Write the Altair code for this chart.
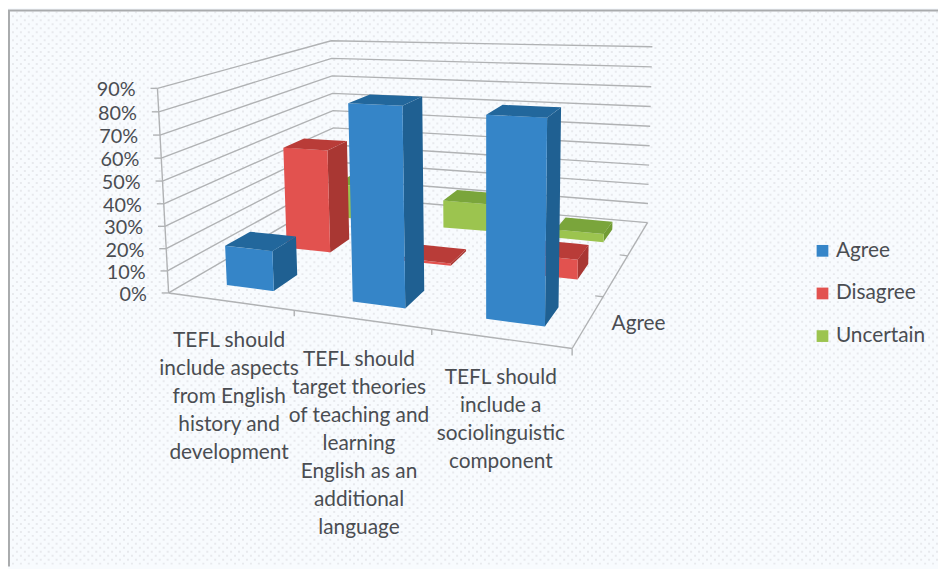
import altair as alt
import numpy as np
import pandas as pd

# ---- values ----
categories = ["TEFL should include aspects from English history and development",
              "TEFL should target theories of teaching and learning English as an additional language",
              "TEFL should include a sociolinguistic component"]
series = ["Agree", "Disagree", "Uncertain"]
agree = [18, 84, 82]
disagree = [50, 1, 9]
uncertain = [18, 14, 4]
pct_ticks = [0, 10, 20, 30, 40, 50, 60, 70, 80, 90]
cat_lines = [["TEFL should", "include aspects", "from English", "history and", "development"],
             ["TEFL should", "target theories", "of teaching and", "learning", "English as an", "additional", "language"],
             ["TEFL should", "include a", "sociolinguistic", "component"]]
depth_label = "Agree"

# ---- styling / layout ----
W, H = 938, 561
X0, Y0 = 8, 8
FONT = "Lato"
TEXT = "#4a4d52"
GRID = "#b0b2b4"
BG = "#f8fbfe"
colors = {"Agree": "#3585c8", "Disagree": "#e2524f", "Uncertain": "#9cc44f",
          "Agree side": "#1f6092", "Disagree side": "#a93733", "Uncertain side": "#729c35",
          "Agree top": "#22679c", "Disagree top": "#b93c38", "Uncertain top": "#7aa53b"}

floor = [(170, 293), (577, 349), (653, 222), (338, 195)]   # front-left, front-right, back-right, back-left
wall_tops = {(0, 0): (160, 88), (0, 1): (333, 33), (1, 1): (658, 50)}   # (u, d) -> 90% point
HALF_W, HALF_D = 0.067, 0.065


def homography(c):
    src = [(0, 0), (1, 0), (1, 1), (0, 1)]
    A, b = [], []
    for (u, d), (x, y) in zip(src, c):
        A.append([u, d, 1, 0, 0, 0, -u * x, -d * x]); b.append(x)
        A.append([0, 0, 0, u, d, 1, -u * y, -d * y]); b.append(y)
    return np.append(np.linalg.solve(np.array(A, float), np.array(b, float)), 1).reshape(3, 3)


HF = homography(floor)
# single-camera perspective: the height direction is one more column of the projection matrix
A, b = [], []
for (u, d), (tx, ty) in wall_tops.items():
    q = HF @ np.array([u, d, 1.0])
    A.append([1, 0, -tx]); b.append(tx * q[2] - q[0])
    A.append([0, 1, -ty]); b.append(ty * q[2] - q[1])
HCOL = np.linalg.lstsq(np.array(A, float), np.array(b, float), rcond=None)[0]


def project(u, d, pct):
    q = HF @ np.array([u, d, 1.0]) + HCOL * pct / 90.0
    return q[:2] / q[2]


def slot(u):
    """Category spacing along the front edge."""
    return u + 0.05 * u * (1 - u ** 3)


def slices(poly):
    """Turn a convex quad into vertical spans, so an area mark can draw it."""
    xs = sorted({round(float(p[0]), 2) for p in poly})
    rows = []
    n = len(poly)
    for x in xs:
        ys = []
        for i in range(n):
            (x1, y1), (x2, y2) = poly[i], poly[(i + 1) % n]
            lo, hi = min(x1, x2), max(x1, x2)
            if lo - 0.011 <= x <= hi + 0.011:
                if abs(x2 - x1) < 0.02:
                    ys += [y1, y2]
                else:
                    ys.append(y1 + (y2 - y1) * (x - x1) / (x2 - x1))
        rows.append((x, min(ys), max(ys)))
    return rows


values = {"Agree": agree, "Disagree": disagree, "Uncertain": uncertain}
rows = []
pid = 0
# paint far row first, left to right
for j in [2, 1, 0]:
    s = series[j]
    for i, cat in enumerate(categories):
        v = values[s][i]
        uc, dc = slot((i + 0.5) / 3), (j + 0.5) / 3
        u0, u1, d0, d1 = uc - HALF_W, uc + HALF_W, dc - HALF_D, dc + HALF_D
        faces = {
            s + " side": [project(u1, d0, 0), project(u1, d1, 0), project(u1, d1, v), project(u1, d0, v)],
            s: [project(u0, d0, 0), project(u1, d0, 0), project(u1, d0, v), project(u0, d0, v)],
            s + " top": [project(u0, d0, v), project(u1, d0, v), project(u1, d1, v), project(u0, d1, v)],
        }
        for name, poly in faces.items():
            for x, y, y2 in slices(poly):
                rows.append({"x": x, "y": y, "y2": y2, "face": name, "pid": f"{pid:03d}"})
            pid += 1
bars_df = pd.DataFrame(rows)

xs = alt.Scale(domain=[X0, X0 + W], range=[0, W], nice=False, zero=False)
ys = alt.Scale(domain=[Y0, Y0 + H], reverse=True, nice=False, zero=False)
X = alt.X("x:Q", scale=xs, axis=None)
Y = alt.Y("y:Q", scale=ys, axis=None)

# dotted paper texture
tex1 = alt.Chart(pd.DataFrame({"y": list(range(10, 570, 8))})).mark_rule(
    color="#e7e9ed", strokeWidth=2, strokeDash=[2, 6]).encode(y=Y, x=alt.value(0), x2=alt.value(W))
tex2 = alt.Chart(pd.DataFrame({"y": list(range(14, 570, 8))})).mark_rule(
    color="#e7e9ed", strokeWidth=2, strokeDash=[2, 6], strokeDashOffset=4).encode(y=Y, x=alt.value(0), x2=alt.value(W))
border = alt.Chart(pd.DataFrame({"x": [X0 + 1], "y": [Y0], "x2": [X0 + 1], "y2": [Y0 + H]})).mark_rule(
    color="#a9abad", strokeWidth=2).encode(x=X, y=Y, x2="x2:Q", y2="y2:Q")
border2 = alt.Chart(pd.DataFrame({"x": [X0], "y": [Y0], "x2": [X0 + W], "y2": [Y0]})).mark_rule(
    color="#a9abad", strokeWidth=2).encode(x=X, y=Y, x2="x2:Q", y2="y2:Q")

# wall gridlines, axis lines and ticks
lines = []
for t in pct_ticks:
    a, b_, c = project(0, 0, t), project(0, 1, t), project(1, 1, t)
    for k, p in enumerate([a, b_, c]):
        lines.append({"x": p[0], "y": p[1], "g": f"wall{t}", "o": k})
    tick = project(0, 0, t)
    lines += [{"x": tick[0] - 7, "y": tick[1], "g": f"tick{t}", "o": 0},
              {"x": tick[0], "y": tick[1], "g": f"tick{t}", "o": 1}]
for name, pts in {"vert": [project(0, 0, 0), project(0, 0, 90)],
                  "front": [project(0, 0, 0), project(1, 0, 0)],
                  "right": [project(1, 0, 0), project(1, 1, 0)],
                  "tc0": [project(slot(1 / 3), 0, 0), project(slot(1 / 3), 0, 0) + [0, 6]],
                  "tc1": [project(slot(2 / 3), 0, 0), project(slot(2 / 3), 0, 0) + [0, 6]],
                  "tc2": [project(1, 0, 0), project(1, 0, 0) + [0, 7]],
                  "td1": [project(1, 1 / 3, 0), project(1, 1 / 3, 0) + [-8, -1]],
                  "td2": [project(1, 2 / 3, 0), project(1, 2 / 3, 0) + [-8, -1]]}.items():
    for k, p in enumerate(pts):
        lines.append({"x": p[0], "y": p[1], "g": name, "o": k})
grid = alt.Chart(pd.DataFrame(lines)).mark_line(color=GRID, strokeWidth=1.4).encode(
    x=X, y=Y, detail="g:N", order="o:Q")

bars = alt.Chart(bars_df).mark_area(interpolate="linear", opacity=1).encode(
    x=X, y=alt.Y("y:Q", scale=ys, axis=None, stack=None), y2="y2:Q", detail="pid:N",
    color=alt.Color("face:N",
                    scale=alt.Scale(domain=list(colors), range=list(colors.values())),
                    legend=alt.Legend(values=series, title=None, orient="none", legendX=811, legendY=232,
                                      symbolType="square", symbolSize=140, symbolStrokeWidth=0,
                                      labelFont=FONT, labelFontSize=21, labelColor=TEXT,
                                      rowPadding=21, labelOffset=3)))

# axis texts
pct_df = pd.DataFrame([{"x": project(0, 0, t)[0] - 22, "y": project(0, 0, t)[1] + 2, "t": f"{t}%"} for t in pct_ticks])
pct_text = alt.Chart(pct_df).mark_text(align="right", baseline="middle", font=FONT, fontSize=20, color=TEXT).encode(
    x=X, y=Y, text="t:N")

cat_rows = []
cat_pos = [(231, 342), (362, 361), (505, 379)]
for (cx, cy), block in zip(cat_pos, cat_lines):
    for k, line in enumerate(block):
        cat_rows.append({"x": cx, "y": cy + k * 28.2, "t": line})
cat_text = alt.Chart(pd.DataFrame(cat_rows)).mark_text(align="center", baseline="middle", font=FONT, fontSize=21,
                                                        color=TEXT).encode(x=X, y=Y, text="t:N")
z_text = alt.Chart(pd.DataFrame([{"x": 644, "y": 324, "t": depth_label}])).mark_text(
    align="center", baseline="middle", font=FONT, fontSize=21, color=TEXT).encode(x=X, y=Y, text="t:N")

chart = alt.layer(tex1, tex2, border, border2, grid, bars, pct_text, cat_text, z_text).properties(
    width=W, height=H, padding=0, background=BG, autosize=alt.AutoSizeParams(type="none")
).configure_view(stroke=None)

chart.save("out.html", embed_options={"renderer": "svg", "actions": False})
